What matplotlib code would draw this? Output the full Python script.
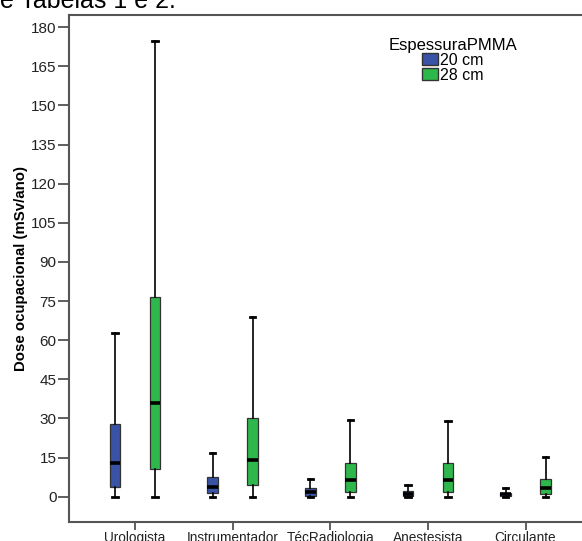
import matplotlib
matplotlib.use("Agg")
import matplotlib.pyplot as plt
from matplotlib.patches import Patch

plt.rcParams['font.family'] = ['Liberation Sans', 'DejaVu Sans']

categories = ["Urologista", "Instrumentador", "TécRadiologia", "Anestesista", "Circulante"]
series_names = ["20 cm", "28 cm"]
colors = ["#3953a6", "#2eb84c"]

# per series: whisker low, Q1, median, Q3, whisker high
low_20 = [0, 0, 0, 0, 0]
q1_20 = [3.8, 1.3, 0.4, 0.3, 0.3]
med_20 = [13.1, 3.6, 1.7, 1.2, 0.9]
q3_20 = [27.8, 7.5, 3.2, 2.1, 1.5]
high_20 = [62.7, 16.9, 6.7, 4.4, 3.3]

low_28 = [0, 0, 0, 0, 0]
q1_28 = [10.6, 4.4, 1.7, 1.7, 0.9]
med_28 = [35.8, 14.1, 6.2, 6.2, 3.2]
q3_28 = [76.6, 30.1, 12.8, 12.8, 6.8]
high_28 = [174.8, 68.8, 29.4, 29.0, 15.2]

yticks = list(range(0, 181, 15))

fig = plt.figure(figsize=(5.82, 5.41), dpi=100)
ax = fig.add_axes([69/582, 1-521.7/541, 1-69/582, (521.7-15)/541])

series = [
    (low_20, q1_20, med_20, q3_20, high_20),
    (low_28, q1_28, med_28, q3_28, high_28),
]
offsets = [-0.205, 0.205]
for s, (lo, q1, md, q3, hi) in enumerate(series):
    stats = []
    for i in range(len(categories)):
        stats.append(dict(whislo=lo[i], q1=q1[i], med=md[i], q3=q3[i], whishi=hi[i], fliers=[]))
    pos = [i + offsets[s] for i in range(len(categories))]
    ax.bxp(stats, positions=pos, widths=0.11, patch_artist=True, showfliers=False,
           boxprops=dict(facecolor=colors[s], edgecolor="#333333", linewidth=0.9),
           medianprops=dict(color="black", linewidth=2.6),
           whiskerprops=dict(color="black", linewidth=1.2),
           capprops=dict(color="black", linewidth=2.0), capwidths=0.055,
           manage_ticks=False)

ax.set_xlim(-0.676, (582-134.7)/97.7)
ax.set_ylim(-9.6, 184.7)
ax.set_yticks(yticks)
ax.set_yticklabels([str(v) for v in yticks], fontsize=11, color="#222222")
ax.set_xticks(range(len(categories)))
ax.set_xticklabels(categories, fontsize=9.8, color="#222222")
ax.tick_params(axis='y', length=8, width=1.2, color="#444444", pad=1)
ax.tick_params(axis='x', length=6, width=1.2, color="#444444", pad=1)
for sp in ["left", "bottom", "top"]:
    ax.spines[sp].set_color("#555555")
    ax.spines[sp].set_linewidth(1.5)
ax.spines["right"].set_visible(False)

ax.set_ylabel("Dose ocupacional (mSv/ano)", fontsize=10.8, fontweight="bold", labelpad=2)

handles = [Patch(facecolor=colors[i], edgecolor="#333333", label=series_names[i]) for i in range(2)]
leg = ax.legend(handles=handles, title="EspessuraPMMA", frameon=False,
                loc="upper left", bbox_to_anchor=(379/582, 1-28/541),
                bbox_transform=fig.transFigure, fontsize=11.5, title_fontsize=12,
                handlelength=0.95, handleheight=0.8, handletextpad=0.15,
                labelspacing=0.0, borderpad=0.1)
leg._legend_box.align = "center"

fig.text(0.0, 1-7.5/541, "e Tabelas 1 e 2.", fontsize=18, va="baseline", ha="left")

fig.savefig("out.png", dpi=100)
